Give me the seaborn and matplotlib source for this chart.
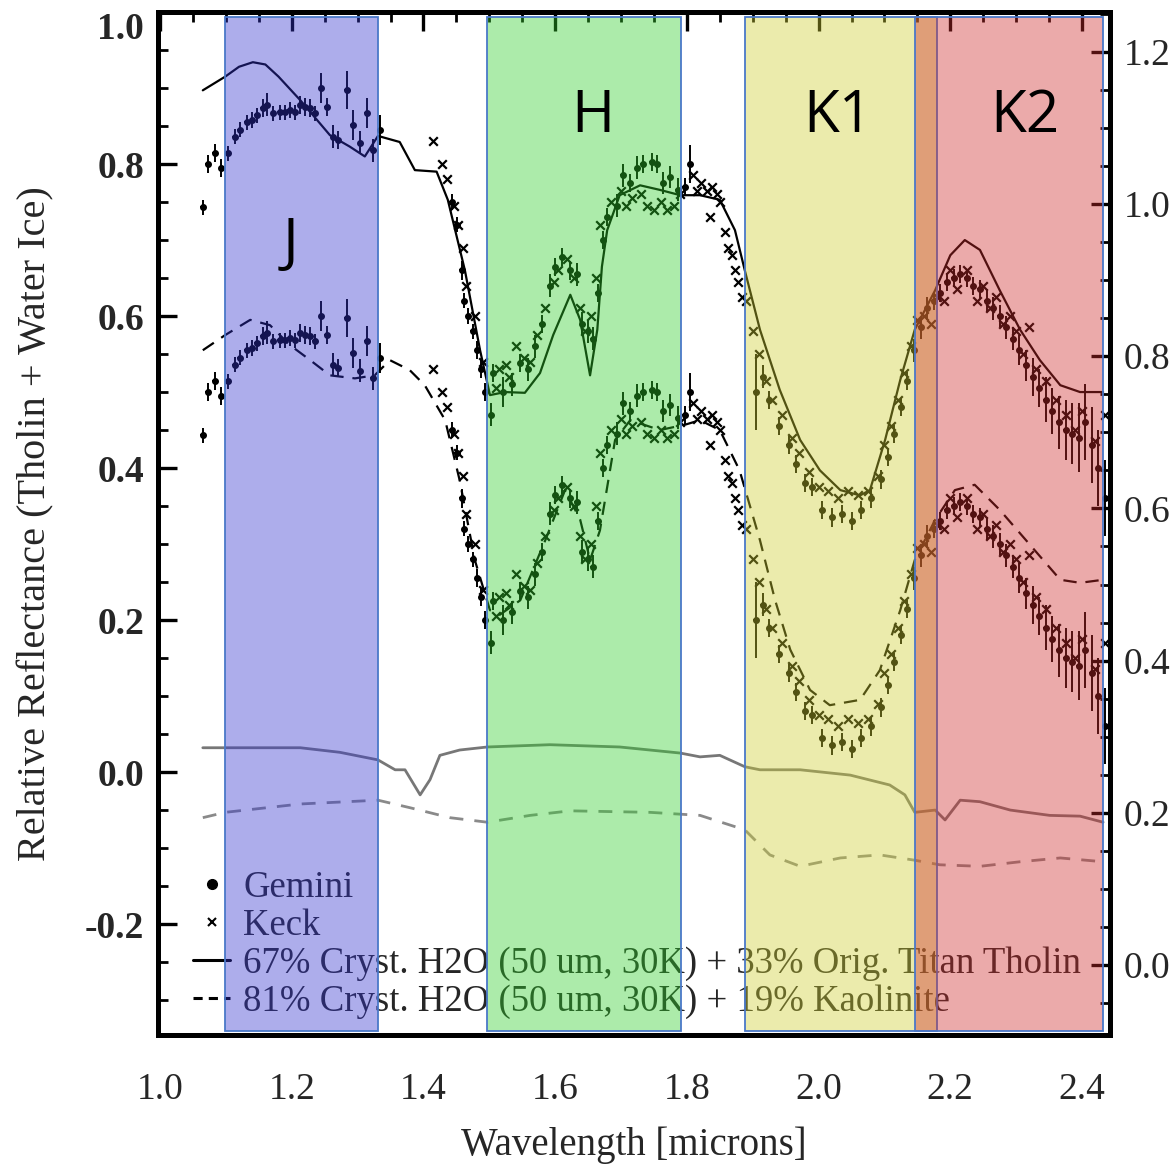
import numpy as np
import pandas as pd
import matplotlib
matplotlib.use("Agg")
import matplotlib.pyplot as plt
import seaborn as sns
from matplotlib.ticker import MultipleLocator, FormatStrFormatter
from matplotlib.lines import Line2D

# ---------------- data (upper set; lower set is the same data offset for clarity) ----------------
offset = 0.30

gem_x = [1.065, 1.073, 1.083, 1.093, 1.103, 1.114, 1.121, 1.132, 1.140, 1.147, 1.156, 1.162, 1.172,
         1.182, 1.190, 1.197, 1.205, 1.213, 1.220, 1.228, 1.235, 1.245, 1.253, 1.263, 1.270, 1.284,
         1.293, 1.304, 1.314, 1.323, 1.334,
         1.443, 1.451, 1.458, 1.462, 1.468, 1.475, 1.482, 1.488, 1.494,
         1.503, 1.506, 1.521, 1.534, 1.547, 1.559, 1.569, 1.580, 1.592, 1.600, 1.610, 1.623, 1.633,
         1.641, 1.650, 1.657, 1.665, 1.673, 1.679, 1.694, 1.703, 1.714, 1.725, 1.733, 1.747, 1.755,
         1.764, 1.774, 1.786,
         1.797, 1.805,
         1.905, 1.915, 1.925, 1.940, 1.955, 1.965, 1.980, 1.990, 2.005, 2.020, 2.035, 2.050, 2.065,
         2.080, 2.095, 2.105, 2.115, 2.125, 2.135, 2.145, 2.155, 2.165,
         2.175, 2.185, 2.195, 2.205, 2.215, 2.225, 2.235, 2.245, 2.255, 2.265, 2.275, 2.285, 2.295,
         2.305, 2.315, 2.325, 2.335, 2.345, 2.355, 2.365, 2.375, 2.385, 2.395, 2.405, 2.415, 2.425,
         2.435]
gem_y = [0.743, 0.800, 0.815, 0.795, 0.814, 0.836, 0.845, 0.855, 0.858, 0.864, 0.874, 0.878, 0.867,
         0.868, 0.868, 0.871, 0.868, 0.878, 0.875, 0.874, 0.867, 0.900, 0.875, 0.836, 0.832, 0.897,
         0.851, 0.828, 0.867, 0.818, 0.845,
         0.750, 0.720, 0.660, 0.620, 0.600, 0.580, 0.555, 0.530, 0.500,
         0.470, 0.525, 0.500, 0.510, 0.538, 0.530, 0.560, 0.590, 0.640, 0.665, 0.678, 0.660, 0.655,
         0.590, 0.580, 0.570, 0.630, 0.700, 0.730, 0.745, 0.785, 0.775, 0.795, 0.800, 0.803, 0.800,
         0.775, 0.783, 0.766,
         0.770, 0.800,
         0.500, 0.520, 0.490, 0.455, 0.430, 0.405, 0.380, 0.375, 0.345, 0.335, 0.340, 0.330, 0.345,
         0.360, 0.385, 0.415, 0.445, 0.480, 0.515, 0.555, 0.585, 0.610,
         0.620, 0.630, 0.645, 0.650, 0.655, 0.650, 0.640, 0.635, 0.620, 0.610, 0.600, 0.585, 0.570,
         0.555, 0.535, 0.520, 0.505, 0.490, 0.475, 0.460, 0.450, 0.445, 0.440, 0.460, 0.430, 0.400,
         0.360]
gem_err = [0.010, 0.012, 0.012, 0.012, 0.010, 0.010, 0.010, 0.010, 0.010, 0.010, 0.012, 0.015, 0.010,
           0.010, 0.010, 0.010, 0.010, 0.012, 0.012, 0.012, 0.010, 0.020, 0.012, 0.015, 0.012, 0.025,
           0.020, 0.015, 0.020, 0.015, 0.020,
           0.010, 0.010, 0.012, 0.010, 0.010, 0.010, 0.012, 0.012, 0.012,
           0.015, 0.012, 0.020, 0.015, 0.012, 0.015, 0.015, 0.012, 0.015, 0.012, 0.012, 0.012, 0.015,
           0.015, 0.015, 0.015, 0.012, 0.012, 0.012, 0.015, 0.015, 0.012, 0.015, 0.012, 0.012, 0.012,
           0.015, 0.015, 0.015,
           0.012, 0.025,
           0.050, 0.015, 0.012, 0.012, 0.012, 0.012, 0.012, 0.012, 0.012, 0.012, 0.012, 0.012, 0.012,
           0.012, 0.012, 0.012, 0.012, 0.012, 0.012, 0.015, 0.015, 0.015,
           0.012, 0.012, 0.012, 0.012, 0.012, 0.012, 0.012, 0.012, 0.015, 0.015, 0.015, 0.015, 0.015,
           0.020, 0.020, 0.025, 0.025, 0.030, 0.030, 0.035, 0.040, 0.040, 0.045, 0.050, 0.050, 0.050,
           0.050]

keck_x = [1.415, 1.428, 1.436, 1.447, 1.452, 1.460, 1.465, 1.478, 1.490,
          1.510, 1.515, 1.525, 1.530, 1.540, 1.552, 1.562, 1.572, 1.585, 1.598, 1.605, 1.618, 1.628,
          1.638, 1.646, 1.655, 1.662, 1.668, 1.685, 1.700, 1.708, 1.716, 1.730, 1.740, 1.750, 1.760,
          1.770, 1.780, 1.790,
          1.810, 1.815, 1.822, 1.830, 1.835, 1.838, 1.845, 1.850, 1.858, 1.862, 1.868, 1.873, 1.878,
          1.884,
          1.890, 1.900, 1.910, 1.920, 1.930, 1.945, 1.960, 1.970, 1.985, 2.000, 2.015, 2.030, 2.045,
          2.060, 2.075, 2.090, 2.100, 2.110, 2.120, 2.130, 2.140, 2.150,
          2.160, 2.170, 2.180, 2.190, 2.200, 2.210, 2.225, 2.240, 2.250, 2.260, 2.270, 2.280, 2.290,
          2.300, 2.310, 2.320, 2.330, 2.345, 2.360, 2.375, 2.390, 2.400, 2.420, 2.435]
keck_y = [0.830, 0.800, 0.780, 0.745, 0.720, 0.690, 0.640, 0.600, 0.540,
          0.505, 0.530, 0.535, 0.520, 0.560, 0.545, 0.540, 0.575, 0.610, 0.645, 0.660, 0.675, 0.650,
          0.610, 0.580, 0.600, 0.650, 0.720, 0.750, 0.765, 0.745, 0.755, 0.760, 0.745, 0.740, 0.750,
          0.740, 0.745, 0.760,
          0.785, 0.765, 0.775, 0.765, 0.730, 0.770, 0.760, 0.750, 0.710, 0.690, 0.680, 0.660, 0.645,
          0.625,
          0.620, 0.580, 0.550, 0.515, 0.490, 0.470, 0.440, 0.420, 0.395, 0.375, 0.370, 0.360, 0.370,
          0.365, 0.370, 0.390, 0.430, 0.455, 0.490, 0.525, 0.560, 0.595,
          0.600, 0.590, 0.625, 0.620, 0.660, 0.635, 0.660, 0.620, 0.640, 0.610, 0.625, 0.590, 0.600,
          0.580, 0.550, 0.585, 0.530, 0.515, 0.490, 0.470, 0.450, 0.475, 0.435, 0.470]

# model: 67% cryst. H2O + 33% Titan tholin (upper, solid)
tholin_x = [1.065, 1.099, 1.120, 1.141, 1.160, 1.180, 1.213, 1.258, 1.288, 1.311, 1.331, 1.364,
            1.387, 1.420, 1.437, 1.463, 1.486, 1.501, 1.524, 1.554, 1.577, 1.597, 1.623, 1.638,
            1.653, 1.664, 1.671, 1.679, 1.698, 1.729, 1.759, 1.790, 1.820, 1.850, 1.873, 1.888,
            1.911, 1.941, 1.972, 2.002, 2.033, 2.063, 2.078, 2.101, 2.124, 2.146, 2.177, 2.200,
            2.222, 2.245, 2.275, 2.306, 2.336, 2.367, 2.397, 2.432]
tholin_y = [0.897, 0.915, 0.928, 0.934, 0.931, 0.915, 0.884, 0.838, 0.823, 0.810, 0.837, 0.829,
            0.792, 0.790, 0.753, 0.660, 0.555, 0.496, 0.500, 0.499, 0.525, 0.575, 0.628, 0.595,
            0.522, 0.582, 0.665, 0.713, 0.759, 0.772, 0.766, 0.759, 0.759, 0.753, 0.713, 0.660,
            0.582, 0.503, 0.437, 0.397, 0.371, 0.364, 0.371, 0.437, 0.516, 0.582, 0.634, 0.680,
            0.700, 0.687, 0.634, 0.582, 0.542, 0.509, 0.500, 0.500]

# model: 81% cryst. H2O + 19% kaolinite (lower, dashed)
kaol_x = [1.065, 1.099, 1.137, 1.167, 1.197, 1.228, 1.258, 1.296, 1.326, 1.349, 1.379, 1.402,
          1.433, 1.455, 1.478, 1.501, 1.516, 1.547, 1.585, 1.615, 1.638, 1.653, 1.668, 1.691,
          1.714, 1.759, 1.797, 1.820, 1.850, 1.880, 1.911, 1.934, 1.957, 1.987, 2.017, 2.063,
          2.093, 2.124, 2.146, 2.177, 2.207, 2.237, 2.275, 2.321, 2.367, 2.397, 2.432]
kaol_y = [0.555, 0.575, 0.595, 0.588, 0.562, 0.542, 0.522, 0.518, 0.522, 0.542, 0.529, 0.509,
          0.463, 0.384, 0.279, 0.213, 0.207, 0.226, 0.305, 0.371, 0.332, 0.279, 0.318, 0.437,
          0.463, 0.450, 0.457, 0.463, 0.450, 0.397, 0.305, 0.226, 0.161, 0.108, 0.088, 0.095,
          0.134, 0.213, 0.279, 0.332, 0.371, 0.378, 0.345, 0.299, 0.253, 0.249, 0.253]

# end-member spectra (bottom, gray)
tholin_em_x = [1.065, 1.213, 1.273, 1.331, 1.357, 1.372, 1.395, 1.410, 1.425, 1.455, 1.497, 1.592,
               1.698, 1.790, 1.820, 1.850, 1.888, 1.911, 1.972, 2.048, 2.108, 2.131, 2.146, 2.177,
               2.192, 2.215, 2.245, 2.291, 2.351, 2.397, 2.432]
tholin_em_y = [0.032, 0.032, 0.026, 0.016, 0.003, 0.003, -0.030, -0.010, 0.022, 0.029, 0.033,
               0.036, 0.033, 0.025, 0.020, 0.022, 0.007, 0.003, 0.003, -0.004, -0.017, -0.030,
               -0.053, -0.050, -0.063, -0.037, -0.039, -0.050, -0.057, -0.058, -0.066]
kaol_em_x = [1.065, 1.099, 1.213, 1.331, 1.380, 1.440, 1.497, 1.562, 1.623, 1.744, 1.820, 1.888,
             1.926, 1.972, 2.033, 2.093, 2.146, 2.184, 2.245, 2.306, 2.367, 2.432]
kaol_em_y = [-0.060, -0.053, -0.042, -0.037, -0.047, -0.060, -0.066, -0.057, -0.051, -0.053,
             -0.057, -0.076, -0.109, -0.124, -0.113, -0.109, -0.116, -0.122, -0.124, -0.118,
             -0.113, -0.118]

band_names = ["J", "H", "K1", "K2"]
band_lo = [1.0986, 1.4965, 1.888, 2.1458]
band_hi = [1.331, 1.791, 2.1792, 2.4318]
band_rgb = [(52, 52, 207), (48, 207, 43), (207, 207, 48), (207, 43, 43)]

left_ticks = [-0.2, 0.0, 0.2, 0.4, 0.6, 0.8, 1.0]
right_ticks = [0.0, 0.2, 0.4, 0.6, 0.8, 1.0, 1.2]

legend_labels = ["Gemini", "Keck",
                 "67% Cryst. H2O (50 um, 30K) + 33% Orig. Titan Tholin",
                 "81% Cryst. H2O (50 um, 30K) + 19% Kaolinite"]

# ---------------- plotting ----------------
sns.set_theme(style="white")
plt.rcParams['font.family'] = ['Liberation Serif', 'DejaVu Serif']

fig = plt.figure(figsize=(11.74, 11.69), dpi=100)
ax = fig.add_axes([0.1346, 0.1146, 0.8109, 0.8751])

gem = pd.DataFrame({"x": gem_x, "y": gem_y, "err": gem_err})
keck = pd.DataFrame({"x": keck_x, "y": keck_y})

for off in (0.0, offset):
    ax.errorbar(gem["x"], gem["y"] - off, yerr=gem["err"], xerr=0.004, fmt='o', ms=4,
                color='black', ecolor='black', elinewidth=1.4, capsize=0, zorder=3)
    sns.scatterplot(x=keck["x"], y=keck["y"] - off, marker='x', s=38, color='black',
                    linewidth=1.6, ax=ax, zorder=3)

sns.lineplot(x=tholin_x, y=tholin_y, sort=False, estimator=None, color='black', lw=1.6, ax=ax, zorder=4)
sns.lineplot(x=kaol_x, y=kaol_y, sort=False, estimator=None, color='black', lw=1.6,
             linestyle=(0, (6, 4)), ax=ax, zorder=4)
sns.lineplot(x=tholin_em_x, y=tholin_em_y, sort=False, estimator=None, color='#777777', lw=2.0, ax=ax, zorder=4)
sns.lineplot(x=kaol_em_x, y=kaol_em_y, sort=False, estimator=None, color='#8a8a8a', lw=2.0,
             linestyle=(0, (5, 4)), ax=ax, zorder=4)

ax.set_xlim(0.997, 2.4425)
ax.set_ylim(-0.346, 1.0)

ax.xaxis.set_major_locator(MultipleLocator(0.2))
ax.xaxis.set_minor_locator(MultipleLocator(0.05))
ax.set_yticks(left_ticks)
ax.yaxis.set_minor_locator(MultipleLocator(0.05))
ax.xaxis.set_major_formatter(FormatStrFormatter('%.1f'))
ax.yaxis.set_major_formatter(FormatStrFormatter('%.1f'))
ax.tick_params(which='both', direction='in', top=True, right=False, color='black')
ax.tick_params(which='major', length=14, width=2.4)
ax.tick_params(which='minor', length=7, width=2.0)
ax.tick_params(axis='x', which='major', labelsize=27, pad=27)
ax.tick_params(axis='y', which='major', labelsize=27, pad=10)
for lab in ax.get_yticklabels():
    lab.set_fontweight('bold')
ax.get_yticklabels()[-1].set_verticalalignment('top')

ax.set_xlabel("Wavelength [microns]", fontsize=28, labelpad=14)
ax.set_ylabel("Relative Reflectance (Tholin + Water Ice)", fontsize=29, labelpad=22)

for sp in ax.spines.values():
    sp.set_linewidth(3.6)
    sp.set_color('black')

handles = [Line2D([], [], marker='o', ls='none', color='black', ms=7),
           Line2D([], [], marker='x', ls='none', color='black', ms=6, mew=1.5),
           Line2D([], [], ls='-', color='black', lw=2.2),
           Line2D([], [], ls=(0, (3, 2)), color='black', lw=2.2)]
ax.legend(handles, legend_labels, loc='lower left', bbox_to_anchor=(0.012, -0.008), frameon=False,
          fontsize=26.5, handlelength=1.0, handletextpad=0.35, labelspacing=0.1, borderaxespad=0.25)

# right axis (offset scale)
ax2 = ax.twinx()
ax2.set_ylim(-0.092, 1.2523)
ax2.set_yticks(right_ticks)
ax2.yaxis.set_minor_locator(MultipleLocator(0.05))
ax2.yaxis.set_major_formatter(FormatStrFormatter('%.1f'))
ax2.tick_params(which='both', direction='in', right=True, left=False, color='black')
ax2.tick_params(which='major', length=14, width=2.4, labelsize=27, pad=10)
ax2.tick_params(which='minor', length=7, width=2.0)
for sp in ax2.spines.values():
    sp.set_linewidth(3.6)
    sp.set_color('black')
ax2.grid(False)
ax.grid(False)

# translucent wavelength bands drawn over everything
for name, lo, hi, rgb in zip(band_names, band_lo, band_hi, band_rgb):
    ax2.axvspan(lo, hi, ymin=0.004, ymax=0.995,
                facecolor=(rgb[0] / 255, rgb[1] / 255, rgb[2] / 255, 0.4),
                edgecolor='#4a78c8', lw=1.3, zorder=6)

label_pos = {"J": (1.198, 0.695), "H": (1.657, 0.862), "K1": (2.029, 0.862), "K2": (2.313, 0.862)}
for name in band_names:
    bx, by = label_pos[name]
    ax2.text(bx, by, name, transform=ax.transData, ha='center', va='center',
             fontsize=42, family=['Open Sans', 'DejaVu Sans'], color='black', zorder=8)

fig.savefig("out.png", dpi=100)
